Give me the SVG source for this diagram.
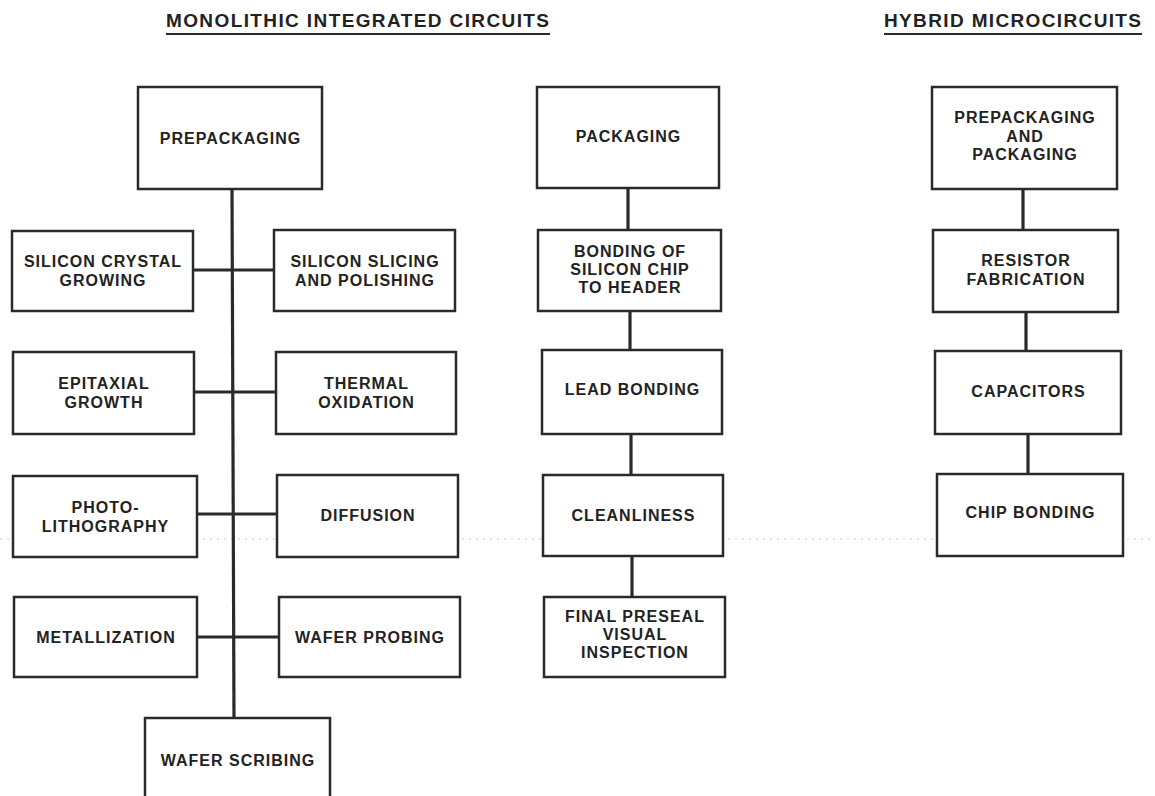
<svg xmlns="http://www.w3.org/2000/svg" width="1155" height="796" viewBox="0 0 1155 796">
<style>
.box{fill:#fff;stroke:#2a2a2a;stroke-width:2.5}
.lbl{font-family:"Liberation Sans",Arial,sans-serif;font-weight:bold;font-size:16px;letter-spacing:1px;fill:#222;text-anchor:middle}
.ttl{font-family:"Liberation Sans",Arial,sans-serif;font-weight:bold;font-size:19px;fill:#222}
.con{stroke:#2a2a2a;stroke-width:3.2;fill:none}
.ul{stroke:#2a2a2a;stroke-width:1.8}
</style>
<rect width="1155" height="796" fill="#fff"/>
<line x1="0" y1="539" x2="1155" y2="539" stroke="#c8c8c8" stroke-width="1" stroke-dasharray="2 5"/>
<g id="titles">
<text class="ttl" x="166" y="27" textLength="383" lengthAdjust="spacing">MONOLITHIC INTEGRATED CIRCUITS</text>
<line class="ul" x1="166" y1="34" x2="550" y2="34"/>
<text class="ttl" x="884" y="27" textLength="257" lengthAdjust="spacing">HYBRID MICROCIRCUITS</text>
<line class="ul" x1="884" y1="34" x2="1142" y2="34"/>
</g>
<g id="connectors">
<line class="con" x1="232" y1="189" x2="234" y2="718"/>
<line class="con" x1="193" y1="270" x2="274" y2="270"/>
<line class="con" x1="194" y1="392" x2="276" y2="392"/>
<line class="con" x1="197" y1="514" x2="277" y2="514"/>
<line class="con" x1="197" y1="637" x2="279" y2="637"/>
<line class="con" x1="628" y1="188" x2="628" y2="230"/>
<line class="con" x1="630" y1="311" x2="630" y2="350"/>
<line class="con" x1="631" y1="434" x2="631" y2="475"/>
<line class="con" x1="632" y1="556" x2="632" y2="597"/>
<line class="con" x1="1023" y1="189" x2="1023" y2="230"/>
<line class="con" x1="1026" y1="312" x2="1026" y2="351"/>
<line class="con" x1="1028" y1="434" x2="1028" y2="474"/>
</g>
<g id="n-prepackaging"><rect class="box" x="138" y="87" width="184" height="102"/><text class="lbl" x="230.5" y="143.5">PREPACKAGING</text></g>
<g id="n-crystal"><rect class="box" x="12" y="231" width="181" height="80"/><text class="lbl" x="103" y="267">SILICON CRYSTAL</text><text class="lbl" x="103" y="286">GROWING</text></g>
<g id="n-slicing"><rect class="box" x="274" y="230" width="181" height="81"/><text class="lbl" x="365" y="266.5">SILICON SLICING</text><text class="lbl" x="365" y="285.5">AND POLISHING</text></g>
<g id="n-epitaxial"><rect class="box" x="13" y="352" width="181" height="82"/><text class="lbl" x="104" y="389">EPITAXIAL</text><text class="lbl" x="104" y="408">GROWTH</text></g>
<g id="n-thermal"><rect class="box" x="276" y="352" width="180" height="82"/><text class="lbl" x="366.5" y="389">THERMAL</text><text class="lbl" x="366.5" y="408">OXIDATION</text></g>
<g id="n-photo"><rect class="box" x="13" y="476" width="184" height="81"/><text class="lbl" x="105.5" y="512.5">PHOTO-</text><text class="lbl" x="105.5" y="531.5">LITHOGRAPHY</text></g>
<g id="n-diffusion"><rect class="box" x="277" y="475" width="181" height="82"/><text class="lbl" x="368" y="521">DIFFUSION</text></g>
<g id="n-metallization"><rect class="box" x="14" y="597" width="183" height="80"/><text class="lbl" x="106" y="642.5">METALLIZATION</text></g>
<g id="n-probing"><rect class="box" x="279" y="597" width="181" height="80"/><text class="lbl" x="370" y="642.5">WAFER PROBING</text></g>
<g id="n-scribing"><rect class="box" x="145" y="718" width="185" height="100"/><text class="lbl" x="238" y="766">WAFER SCRIBING</text></g>
<g id="n-packaging"><rect class="box" x="537" y="87" width="182" height="101"/><text class="lbl" x="628.5" y="142">PACKAGING</text></g>
<g id="n-bonding"><rect class="box" x="538" y="230" width="183" height="81"/><text class="lbl" x="630" y="257">BONDING OF</text><text class="lbl" x="630" y="275">SILICON CHIP</text><text class="lbl" x="630" y="293">TO HEADER</text></g>
<g id="n-lead"><rect class="box" x="542" y="350" width="180" height="84"/><text class="lbl" x="632.5" y="395">LEAD BONDING</text></g>
<g id="n-clean"><rect class="box" x="543" y="475" width="180" height="81"/><text class="lbl" x="633.5" y="521">CLEANLINESS</text></g>
<g id="n-final"><rect class="box" x="544" y="597" width="181" height="80"/><text class="lbl" x="635" y="622">FINAL PRESEAL</text><text class="lbl" x="635" y="640">VISUAL</text><text class="lbl" x="635" y="658">INSPECTION</text></g>
<g id="n-hprepack"><rect class="box" x="932" y="87" width="185" height="102"/><text class="lbl" x="1025" y="123">PREPACKAGING</text><text class="lbl" x="1025" y="142">AND</text><text class="lbl" x="1025" y="160">PACKAGING</text></g>
<g id="n-resistor"><rect class="box" x="933" y="230" width="185" height="82"/><text class="lbl" x="1026" y="266">RESISTOR</text><text class="lbl" x="1026" y="285">FABRICATION</text></g>
<g id="n-capacitors"><rect class="box" x="935" y="351" width="186" height="83"/><text class="lbl" x="1028.5" y="397">CAPACITORS</text></g>
<g id="n-chip"><rect class="box" x="937" y="474" width="186" height="82"/><text class="lbl" x="1030.5" y="518">CHIP BONDING</text></g>
</svg>
